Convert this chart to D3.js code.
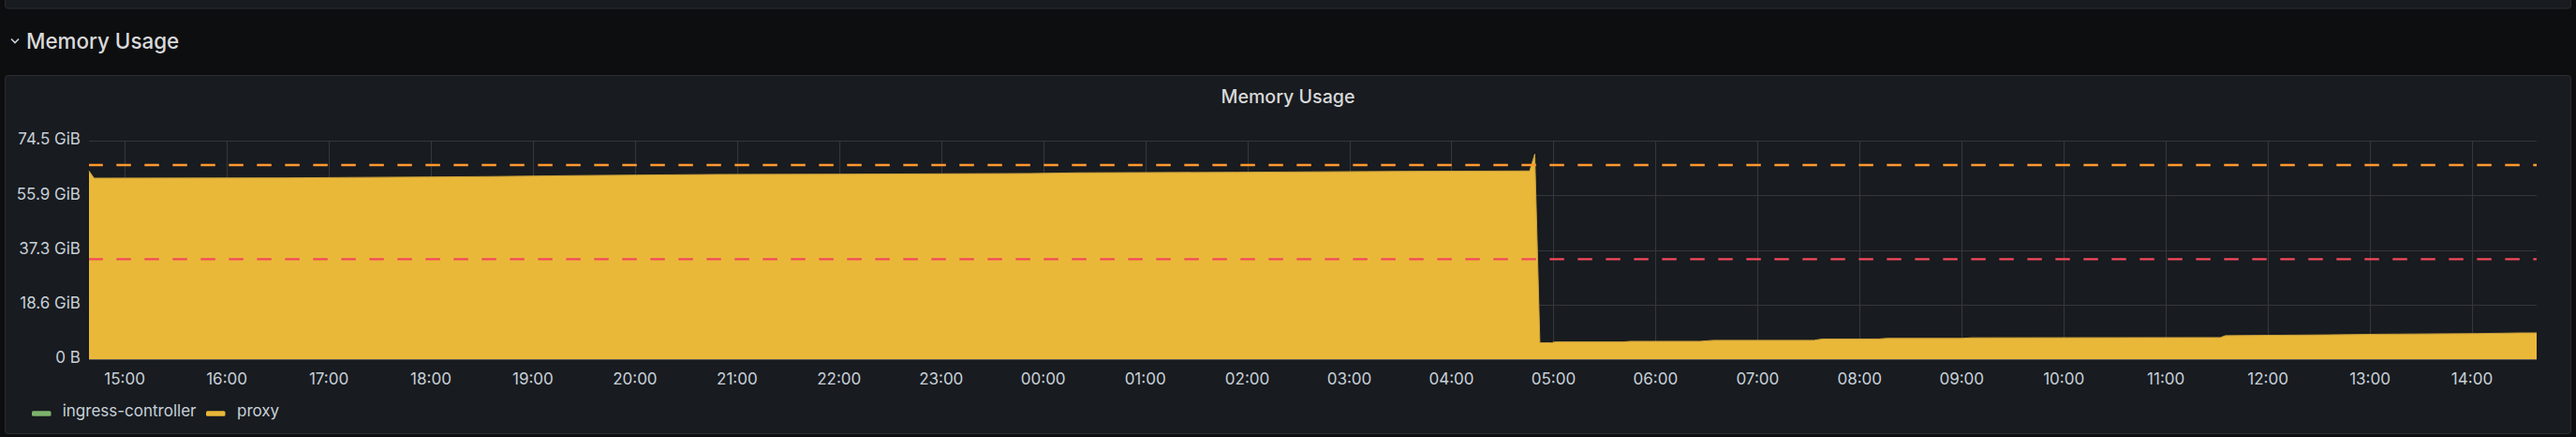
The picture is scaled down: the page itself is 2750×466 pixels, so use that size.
<!DOCTYPE html>
<html>
<head>
<meta charset="utf-8">
<script src="https://cdn.jsdelivr.net/npm/d3@7"></script>
<style>
  html, body { margin: 0; padding: 0; background: #0d0e10; }
  svg { display: block; font-family: Inter, "Noto Sans", sans-serif; }
</style>
</head>
<body>
<svg id="chart" width="2750" height="466"></svg>
<script>
// ---- data ----
const seriesNames = ["ingress-controller", "proxy"];
const seriesColors = ["#7eb26d", "#eab839"];

const proxyTimes = [
  "2023-06-01 14:39", "2023-06-01 14:42", "2023-06-01 16:34", "2023-06-01 18:35",
  "2023-06-01 19:23", "2023-06-01 20:01", "2023-06-01 20:51", "2023-06-01 22:05",
  "2023-06-01 23:52", "2023-06-02 00:20", "2023-06-02 01:54", "2023-06-02 03:33",
  "2023-06-02 04:46", "2023-06-02 04:49", "2023-06-02 04:52", "2023-06-02 04:59",
  "2023-06-02 05:01", "2023-06-02 05:41", "2023-06-02 05:45", "2023-06-02 06:26",
  "2023-06-02 06:34", "2023-06-02 07:33", "2023-06-02 07:38", "2023-06-02 08:11",
  "2023-06-02 08:16", "2023-06-02 09:00", "2023-06-02 09:06", "2023-06-02 11:32",
  "2023-06-02 11:35", "2023-06-02 12:35", "2023-06-02 13:06", "2023-06-02 14:03",
  "2023-06-02 14:29", "2023-06-02 14:38"
];
// GiB
const proxyValues = [
  64.18, 61.72, 61.81, 62.26,
  62.58, 62.77, 62.99, 63.09,
  63.31, 63.54, 63.73, 64.05,
  64.18, 69.93, 5.60, 5.60,
  5.88, 5.88, 6.08, 6.08,
  6.43, 6.43, 6.88, 6.88,
  7.10, 7.10, 7.29, 7.36,
  8.03, 8.28, 8.51, 8.73,
  8.95, 8.95
];

const timeRange = ["2023-06-01 14:39", "2023-06-02 14:38"];
const yTickValues = [0, 18.6265, 37.253, 55.8795, 74.506];   // GiB (0..80 GB)
const yTickLabels = ["0 B", "18.6 GiB", "37.3 GiB", "55.9 GiB", "74.5 GiB"];
const thresholdValues = [66.2, 34.1];   // GiB
const thresholdColors = ["#ff9830", "#f2495c"];

const rowTitle = "Memory Usage";
const panelTitle = "Memory Usage";

// ---- drawing ----
const svg = d3.select("#chart");
const parse = d3.timeParse("%Y-%m-%d %H:%M");

const plot = { left: 95, right: 2708, top: 150, bottom: 383 };

// previous panel (top edge of screenshot)
svg.append("rect").attr("x", 5.5).attr("y", -10).attr("width", 2739).attr("height", 19)
  .attr("rx", 3).attr("fill", "#181b1f").attr("stroke", "#2a2c31");

// row header
svg.append("path").attr("d", "M12,41.5 L16,45.5 L20,41.5")
  .attr("fill", "none").attr("stroke", "#c7d0d9").attr("stroke-width", 1.6);
svg.append("text").attr("x", 28).attr("y", 52).text(rowTitle)
  .attr("fill", "#d8d9da").attr("font-size", 22.4).attr("font-weight", 500);

// panel
svg.append("rect").attr("x", 5.5).attr("y", 80.5).attr("width", 2739).attr("height", 382)
  .attr("rx", 3).attr("fill", "#181b1f").attr("stroke", "#2a2c31");
svg.append("text").attr("x", 1375).attr("y", 110).attr("text-anchor", "middle")
  .text(panelTitle).attr("fill", "#d8d9da").attr("font-size", 19.6).attr("font-weight", 500);

const x = d3.scaleTime().domain(timeRange.map(parse)).range([plot.left, plot.right]);
const y = d3.scaleLinear().domain([0, yTickValues[yTickValues.length - 1]]).range([plot.bottom, plot.top]);

const gridColor = "#34363b";

// horizontal grid
svg.append("g").selectAll("line").data(yTickValues).join("line")
  .attr("x1", plot.left).attr("x2", plot.right)
  .attr("y1", d => Math.round(y(d)) + 0.5).attr("y2", d => Math.round(y(d)) + 0.5)
  .attr("stroke", gridColor).attr("stroke-width", 1.2);

// vertical grid
const xTicks = x.ticks(d3.timeHour.every(1));
svg.append("g").selectAll("line").data(xTicks).join("line")
  .attr("x1", d => Math.round(x(d)) + 0.5).attr("x2", d => Math.round(x(d)) + 0.5)
  .attr("y1", plot.top).attr("y2", plot.bottom)
  .attr("stroke", gridColor).attr("stroke-width", 1.2);

// y labels
svg.append("g").selectAll("text").data(yTickValues).join("text")
  .attr("x", 86).attr("y", d => y(d)).attr("dy", "0.25em")
  .attr("text-anchor", "end").attr("fill", "#c7d0d9").attr("font-size", 17)
  .text((d, i) => yTickLabels[i]);

// x labels
const fmt = d3.timeFormat("%H:%M");
svg.append("g").selectAll("text").data(xTicks).join("text")
  .attr("x", d => x(d)).attr("y", 409.5)
  .attr("text-anchor", "middle").attr("fill", "#c7d0d9").attr("font-size", 17)
  .text(d => fmt(d));

// proxy area
const proxyData = proxyTimes.map((t, i) => ({ t: parse(t), v: proxyValues[i] }));
const area = d3.area().x(d => x(d.t)).y0(plot.bottom).y1(d => y(d.v));
svg.append("path").datum(proxyData).attr("d", area).attr("fill", seriesColors[1]);
const line = d3.line().x(d => x(d.t)).y(d => y(d.v));
svg.append("path").datum(proxyData).attr("d", line).attr("fill", "none")
  .attr("stroke", "#c9a03c").attr("stroke-width", 1);

// zero axis line
svg.append("line").attr("x1", plot.left).attr("x2", plot.right)
  .attr("y1", plot.bottom + 0.5).attr("y2", plot.bottom + 0.5)
  .attr("stroke", "#55575c").attr("stroke-width", 1.2);

// thresholds
svg.append("g").selectAll("line").data(thresholdValues).join("line")
  .attr("x1", plot.left).attr("x2", plot.right)
  .attr("y1", d => y(d)).attr("y2", d => y(d))
  .attr("stroke", (d, i) => thresholdColors[i]).attr("stroke-width", 2.4)
  .attr("stroke-dasharray", "15.5,14.5").attr("stroke-dashoffset", 0.7);

// legend
const legendX = [34, 220];
const legendTextX = [66.7, 253];
const lg = svg.append("g");
seriesNames.forEach((name, i) => {
  lg.append("rect").attr("x", legendX[i]).attr("y", 438.3).attr("width", 20.5).attr("height", 5.5)
    .attr("rx", 1.5).attr("fill", seriesColors[i]);
  lg.append("text").attr("x", legendTextX[i]).attr("y", 444)
    .attr("fill", "#c7d0d9").attr("font-size", 17).text(name);
});
</script>
</body>
</html>
